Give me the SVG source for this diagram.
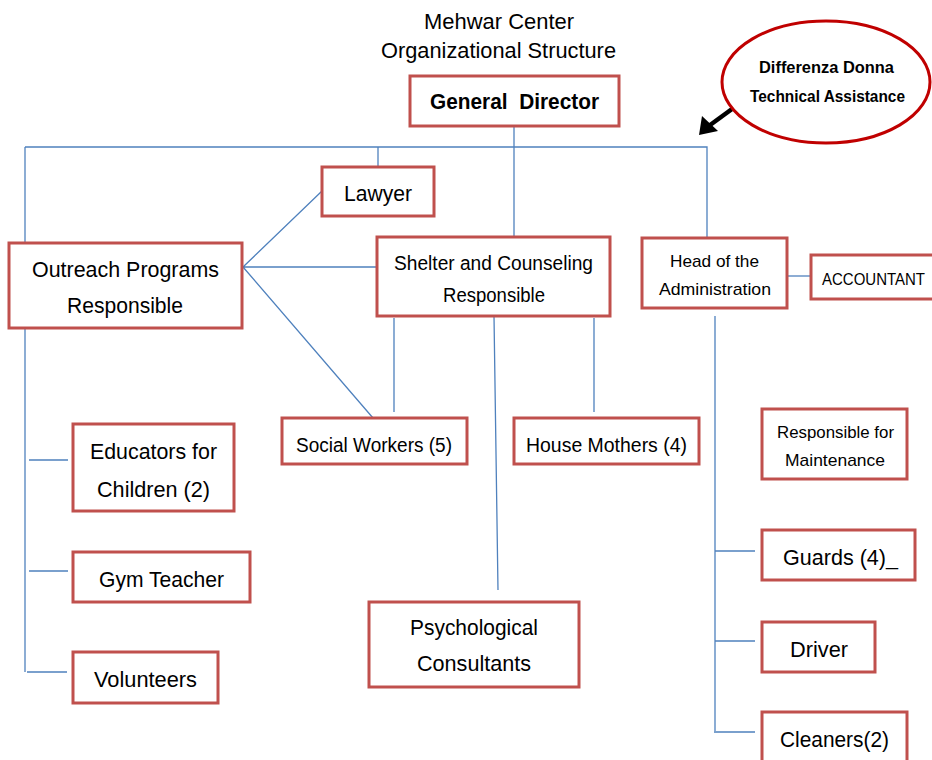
<svg xmlns="http://www.w3.org/2000/svg" width="932" height="760" viewBox="0 0 932 760">
<style>
.box{fill:#fff;stroke:#C0504D;stroke-width:3}
.ln{stroke:#4F81BD;stroke-width:1.3;fill:none}
text{font-family:"Liberation Sans",Arial,sans-serif;fill:#000;text-anchor:middle}
.t{font-size:22px}
.m{font-size:20px}
.s{font-size:17px}
.b{font-weight:bold}
</style>
<rect width="932" height="760" fill="#fff"/>
<g id="title">
<text class="t" x="499" y="29" textLength="150" lengthAdjust="spacingAndGlyphs">Mehwar Center</text>
<text class="t" x="498.5" y="58" textLength="235" lengthAdjust="spacingAndGlyphs">Organizational Structure</text>
</g>
<g id="connectors">
<path class="ln" d="M514,126 V237"/>
<path class="ln" d="M25,147 H707 V238"/>
<path class="ln" d="M25,147 V672"/>
<path class="ln" d="M378,147 V167"/>
<path class="ln" d="M29,460 H68 M29,571 H68 M27,672 H67"/>
<path class="ln" d="M243,267 L322,191 M243,267 H378 M243,267 L373,418"/>
<path class="ln" d="M394,318 V412 M594,318 V412 M494,316 L498,590"/>
<path class="ln" d="M787,276 H811"/>
<path class="ln" d="M715,316 V731 M715,551 H755 M715,641 H755 M714,732 H755"/>
<line x1="732" y1="109" x2="706" y2="128" stroke="#000" stroke-width="4.5"/>
<polygon points="699,135 702,116 718,131" fill="#000"/>
</g>
<g id="ellipse">
<ellipse cx="826" cy="82" rx="104" ry="61" fill="#fff" stroke="#C00000" stroke-width="3"/>
<text class="s b" x="826.5" y="73" textLength="135" lengthAdjust="spacingAndGlyphs">Differenza Donna</text>
<text class="s b" x="827.5" y="102" textLength="155" lengthAdjust="spacingAndGlyphs">Technical Assistance</text>
</g>
<g id="general-director">
<rect class="box" x="410" y="76" width="209" height="50"/>
<text class="t b" x="514.5" y="109" textLength="169" lengthAdjust="spacingAndGlyphs">General&#160; Director</text>
</g>
<g id="lawyer">
<rect class="box" x="322" y="167" width="112" height="49"/>
<text class="t" x="378" y="201" textLength="68" lengthAdjust="spacingAndGlyphs">Lawyer</text>
</g>
<g id="outreach">
<rect class="box" x="9" y="243" width="233" height="85"/>
<text class="t" x="125.5" y="277" textLength="187" lengthAdjust="spacingAndGlyphs">Outreach Programs</text>
<text class="t" x="125" y="313" textLength="116" lengthAdjust="spacingAndGlyphs">Responsible</text>
</g>
<g id="shelter">
<rect class="box" x="377" y="237" width="233" height="79"/>
<text class="m" x="493.5" y="270" textLength="199" lengthAdjust="spacingAndGlyphs">Shelter and Counseling</text>
<text class="m" x="494" y="302" textLength="102" lengthAdjust="spacingAndGlyphs">Responsible</text>
</g>
<g id="head-admin">
<rect class="box" x="642" y="238" width="145" height="70"/>
<text class="s" x="714.5" y="267" textLength="89" lengthAdjust="spacingAndGlyphs">Head of the</text>
<text class="s" x="715" y="295" textLength="112" lengthAdjust="spacingAndGlyphs">Administration</text>
</g>
<g id="accountant">
<rect class="box" x="811" y="255" width="130" height="44"/>
<text class="s" x="873.5" y="285" textLength="103" lengthAdjust="spacingAndGlyphs">ACCOUNTANT</text>
</g>
<g id="social-workers">
<rect class="box" x="282" y="418" width="185" height="46"/>
<text class="m" x="374" y="452" textLength="156" lengthAdjust="spacingAndGlyphs">Social Workers (5)</text>
</g>
<g id="house-mothers">
<rect class="box" x="514" y="418" width="185" height="46"/>
<text class="m" x="606.5" y="452" textLength="161" lengthAdjust="spacingAndGlyphs">House Mothers (4)</text>
</g>
<g id="maintenance">
<rect class="box" x="762" y="409" width="145" height="70"/>
<text class="s" x="835.5" y="438" textLength="117" lengthAdjust="spacingAndGlyphs">Responsible for</text>
<text class="s" x="835" y="466" textLength="100" lengthAdjust="spacingAndGlyphs">Maintenance</text>
</g>
<g id="educators">
<rect class="box" x="73" y="424" width="161" height="87"/>
<text class="t" x="153.5" y="459" textLength="127" lengthAdjust="spacingAndGlyphs">Educators for</text>
<text class="t" x="153.5" y="497" textLength="113" lengthAdjust="spacingAndGlyphs">Children (2)</text>
</g>
<g id="gym-teacher">
<rect class="box" x="73" y="552" width="177" height="50"/>
<text class="t" x="161.5" y="587" textLength="125" lengthAdjust="spacingAndGlyphs">Gym Teacher</text>
</g>
<g id="volunteers">
<rect class="box" x="73" y="652" width="145" height="51"/>
<text class="t" x="145.5" y="687" textLength="103" lengthAdjust="spacingAndGlyphs">Volunteers</text>
</g>
<g id="psychological">
<rect class="box" x="369" y="602" width="210" height="85"/>
<text class="t" x="474" y="635" textLength="128" lengthAdjust="spacingAndGlyphs">Psychological</text>
<text class="t" x="474" y="671" textLength="114" lengthAdjust="spacingAndGlyphs">Consultants</text>
</g>
<g id="guards">
<rect class="box" x="762" y="530" width="153" height="50"/>
<text class="t" x="840.5" y="565" textLength="115" lengthAdjust="spacingAndGlyphs">Guards (4)_</text>
</g>
<g id="driver">
<rect class="box" x="762" y="622" width="113" height="50"/>
<text class="t" x="819" y="657" textLength="58" lengthAdjust="spacingAndGlyphs">Driver</text>
</g>
<g id="cleaners">
<rect class="box" x="762" y="712" width="145" height="60"/>
<text class="t" x="834.5" y="747" textLength="109" lengthAdjust="spacingAndGlyphs">Cleaners(2)</text>
</g>
</svg>
